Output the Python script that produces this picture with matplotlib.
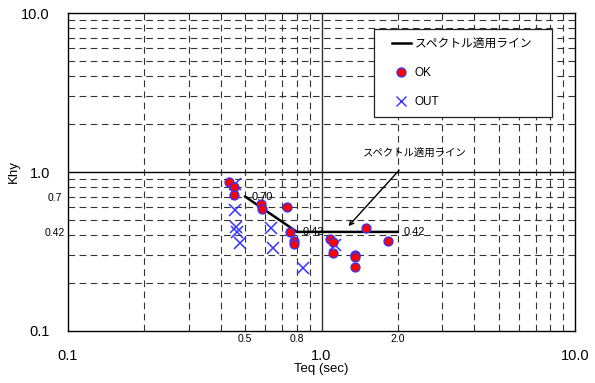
import matplotlib
matplotlib.use("Agg")
import matplotlib.pyplot as plt
from matplotlib.lines import Line2D
from matplotlib.patches import Rectangle

plt.rcParams['font.family'] = ['Liberation Sans', 'Noto Sans CJK JP', 'DejaVu Sans']

# Data
line_x = [0.5, 0.8, 2.0]
line_y = [0.70, 0.42, 0.42]

ok_x = [0.430, 0.451, 0.450, 0.578, 0.581, 0.730, 0.752, 0.782, 0.778,
        1.08, 1.11, 1.11, 1.35, 1.36, 1.35, 1.50, 1.83]
ok_y = [0.861, 0.800, 0.717, 0.626, 0.588, 0.600, 0.418, 0.370, 0.355,
        0.380, 0.364, 0.308, 0.302, 0.290, 0.254, 0.442, 0.366]

out_x = [0.457, 0.454, 0.460, 0.465, 0.475, 0.633, 0.643, 0.844, 1.13]
out_y = [0.840, 0.577, 0.450, 0.420, 0.356, 0.443, 0.331, 0.248, 0.348]

x_major = [0.1, 1.0, 10.0]
x_major_labels = ['0.1', '1.0', '10.0']
x_minor = [0.5, 0.8, 2.0]
x_minor_labels = ['0.5', '0.8', '2.0']
y_major = [0.1, 1.0, 10.0]
y_major_labels = ['0.1', '1.0', '10.0']
y_minor = [0.42, 0.7]
y_minor_labels = ['0.42', '0.7']

fig = plt.figure(figsize=(5.95, 3.83), dpi=100)
ax = fig.add_axes([0.1143, 0.1358, 0.9664 - 0.1143, 0.966 - 0.1358])
ax.set_xscale('log')
ax.set_yscale('log')
ax.set_xlim(0.1, 10)
ax.set_ylim(0.1, 10)

# grid
grid_vals = [m * d for d in (0.1, 1.0) for m in range(2, 10)]
for v in grid_vals:
    ax.axvline(v, color='#333333', lw=0.8, ls=(0, (6, 4)), zorder=1)
    ax.axhline(v, color='#333333', lw=0.8, ls=(0, (6, 4)), zorder=1)
ax.axvline(1.0, color='#333333', lw=1.0, zorder=1)
ax.axhline(1.0, color='black', lw=1.0, zorder=1)

# spectral line
ax.plot(line_x, line_y, color='black', lw=1.8, zorder=3)
ax.text(0.528, 0.693, '0.70', fontsize=8, va='center', ha='left', zorder=4)
ax.text(0.841, 0.42, '0.42', fontsize=8, va='center', ha='left', zorder=4)
ax.text(2.107, 0.42, '0.42', fontsize=8, va='center', ha='left', zorder=4)

# points
ax.plot(out_x, out_y, ls='none', marker='x', ms=9, mew=1.1, color='#3333ff', zorder=4)
ax.plot(ok_x, ok_y, ls='none', marker='o', ms=6.5, mfc='red', mec='#3333ff', mew=0.9, zorder=5)

# annotation
ax.annotate('スペクトル適用ライン', xy=(1.278, 0.457), xytext=(2.33, 1.316),
            fontsize=7.5, ha='center', va='center',
            arrowprops=dict(arrowstyle='->', color='black', lw=1.0,
                            shrinkA=9, shrinkB=0), zorder=6)

# ticks
ax.set_xticks(x_major, labels=x_major_labels)
ax.set_xticks(x_minor, labels=x_minor_labels, minor=True)
ax.set_yticks(y_major, labels=y_major_labels)
ax.set_yticks(y_minor, labels=y_minor_labels, minor=True)
ax.tick_params(axis='x', which='major', length=0, labelsize=10.5, pad=13)
ax.tick_params(axis='x', which='minor', length=0, labelsize=7.5, pad=2)
ax.tick_params(axis='y', which='major', length=0, labelsize=10.5, pad=13)
ax.tick_params(axis='y', which='minor', length=0, labelsize=7.5, pad=9.4)
for lbl in ax.get_yticklabels(minor=True):
    lbl.set_horizontalalignment('center')

ax.set_xlabel('Teq (sec)', fontsize=9.5, labelpad=0)
ax.set_ylabel('Khy', fontsize=9.5, labelpad=0)
ax.yaxis.set_label_coords(-0.095, 0.5)

for s in ax.spines.values():
    s.set_linewidth(1.0)
    s.set_color('black')

# legend box
box = Rectangle((0.6036, 0.673), 0.9546 - 0.6036, 0.950 - 0.673,
                transform=ax.transAxes, facecolor='white', edgecolor='#222222',
                lw=0.9, zorder=7)
ax.add_patch(box)

handles = [Line2D([], [], color='black', lw=1.8),
           Line2D([], [], ls='none', marker='o', ms=6.5, mfc='red', mec='#3333ff', mew=0.9),
           Line2D([], [], ls='none', marker='x', ms=7.5, mew=1.0, color='#3333ff')]
leg = ax.legend(handles, ['スペクトル適用ライン', 'OK', 'OUT'],
                loc='upper left', bbox_to_anchor=(0.639, 0.921), fontsize=8.5,
                frameon=False, handlelength=1.6, labelspacing=1.45,
                borderpad=0, handletextpad=0.3, borderaxespad=0)
leg.set_zorder(8)

fig.savefig('out.png', dpi=100)
